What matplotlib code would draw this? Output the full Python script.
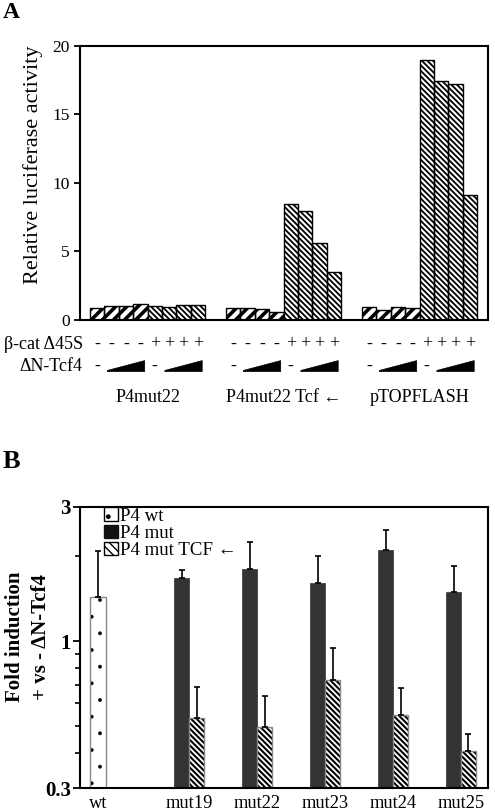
import numpy as np
import matplotlib
matplotlib.use('Agg')
import matplotlib.pyplot as plt
from matplotlib.patches import Polygon, Patch
from matplotlib import transforms
from matplotlib.ticker import FixedLocator, NullFormatter

plt.rcParams['font.family'] = ['Liberation Serif', 'DejaVu Serif']

# ---------------- Panel A data ----------------
groups_A = ['P4mut22', 'P4mut22 Tcf ←', 'pTOPFLASH']
luc_P4mut22 = [0.9, 1.05, 1.0, 1.2, 1.0, 0.95, 1.12, 1.12]
luc_P4mut22_tcf = [0.9, 0.88, 0.78, 0.58, 8.45, 7.95, 5.6, 3.5]
luc_pTOPFLASH = [0.92, 0.72, 0.92, 0.86, 18.95, 17.45, 17.2, 9.15]
bcat_signs = ['-', '-', '-', '-', '+', '+', '+', '+']
yticks_A = [0, 5, 10, 15, 20]

# ---------------- Panel B data ----------------
categories_B = ['wt', 'mut19', 'mut22', 'mut23', 'mut24', 'mut25']
p4_wt = [1.44]
p4_wt_err = [0.65]
p4_mut = [1.67, 1.81, 1.615, 2.11, 1.50]
p4_mut_err = [0.12, 0.44, 0.385, 0.38, 0.355]
p4_tcf = [0.533, 0.495, 0.729, 0.547, 0.406]
p4_tcf_err = [0.155, 0.143, 0.217, 0.135, 0.062]
yticks_B = [0.3, 1, 3]
yticklabels_B = ['0.3', '1', '3']
yminor_B = [0.4, 0.5, 0.6, 0.7, 0.8, 0.9, 2]

W, H = 495, 811
fig = plt.figure(figsize=(W / 100, H / 100), dpi=100)

HATCH_DENSE = '\\' * 6
HATCH_THICK = '///'


def hatched_bar(ax, x, h, width, hatch, hlw, edge='black', lw=1.0, bottom=None):
    kw = {} if bottom is None else {'bottom': bottom}
    with plt.rc_context({'hatch.linewidth': hlw}):
        bars = ax.bar(x, h, width=width, facecolor='white', edgecolor='black',
                      linewidth=0, hatch=hatch, **kw)
        for p in bars.patches:
            try:
                p.set_hatch_linewidth(hlw)
            except Exception:
                pass
    ax.bar(x, h, width=width, fill=False, edgecolor=edge, linewidth=lw, **kw)
    return bars


# ================= Panel A =================
axA = fig.add_axes([80 / W, 1 - 320 / H, 408 / W, 274.3 / H])
gap = 1.46
series_A = [luc_P4mut22, luc_P4mut22_tcf, luc_pTOPFLASH]
trA = transforms.blended_transform_factory(axA.transData, axA.transAxes)
for g, vals in enumerate(series_A):
    x0 = g * (8 + gap)
    xs = x0 + np.arange(len(vals))
    hatched_bar(axA, xs[:4], vals[:4], 1.0, HATCH_THICK, 2.6)
    hatched_bar(axA, xs[4:], vals[4:], 1.0, HATCH_DENSE, 1.3)
    # beta-cat row
    for x, s in zip(xs, bcat_signs):
        axA.text(x, -0.0875, s, transform=trA, ha='center', va='center',
                 fontsize=13)
    # dN-Tcf4 row: '-' then wedge
    for k in (0, 4):
        axA.text(xs[k], -0.168, '-', transform=trA, ha='center', va='center',
                 fontsize=13)
        xl, xr = xs[k + 1] - 0.3, xs[k + 3] + 0.3
        poly = Polygon([(xl, -0.188), (xr, -0.188), (xr, -0.148), (xl, -0.184)],
                       closed=True, transform=trA, facecolor='black',
                       edgecolor='black', linewidth=0.5, clip_on=False)
        axA.add_patch(poly)
    axA.text(xs.mean(), -0.281, groups_A[g], transform=trA, ha='center',
             va='center', fontsize=13)

axA.text(0.007, -0.0875, 'β-cat Δ45S', transform=axA.transAxes, ha='right',
         va='center', fontsize=13)
axA.text(0.007, -0.168, 'ΔN-Tcf4', transform=axA.transAxes, ha='right',
         va='center', fontsize=13)

axA.set_xlim(-1.2, 2 * (8 + gap) + 7.5 + 0.76)
axA.set_ylim(0, 20)
axA.set_yticks(yticks_A)
axA.set_yticklabels([str(t) for t in yticks_A], fontsize=12.5)
axA.set_xticks([])
axA.tick_params(axis='y', direction='out', length=4.5, width=1.3, pad=3)
for sp in axA.spines.values():
    sp.set_linewidth(1.5)
axA.set_ylabel('Relative luciferase activity', fontsize=16)
axA.yaxis.set_label_coords(-0.09, 0.565)

fig.text(3 / W, 1 - 13 / H, 'A', fontsize=17, fontweight='bold',
         ha='left', va='center')

# ================= Panel B =================
axB = fig.add_axes([80 / W, 1 - 788 / H, 408 / W, 281 / H])
axB.set_yscale('log')
cat_x = np.arange(len(categories_B), dtype=float)
cat_x[0] -= 0.34
w = 0.22
bot = 0.3
# wt bar (dotted)
hatched_bar(axB, cat_x[:1], np.array(p4_wt) - bot, 0.235, '.', 0.3,
            edge='#888888', lw=1.0, bottom=bot)
# P4 mut (dark)
axB.bar(cat_x[1:] - w / 2, np.array(p4_mut) - bot, width=w, bottom=bot,
        color='#333333', edgecolor='#333333', linewidth=0.5)
# P4 mut TCF (striped)
hatched_bar(axB, cat_x[1:] + w / 2, np.array(p4_tcf) - bot, w, HATCH_DENSE, 1.5,
            edge='#888888', lw=1.0, bottom=bot)

zeros = lambda n: np.zeros(n)
axB.errorbar(cat_x[:1], p4_wt, yerr=[zeros(1), p4_wt_err], fmt='none',
             ecolor='black', elinewidth=1.2, capsize=2, capthick=1.2)
axB.errorbar(cat_x[1:] - w / 2, p4_mut, yerr=[zeros(5), p4_mut_err], fmt='none',
             ecolor='black', elinewidth=1.2, capsize=2, capthick=1.2)
axB.errorbar(cat_x[1:] + w / 2, p4_tcf, yerr=[zeros(5), p4_tcf_err], fmt='none',
             ecolor='black', elinewidth=1.2, capsize=2, capthick=1.2)

axB.set_ylim(0.3, 3)
axB.set_xlim(-0.605, 5.397)
axB.yaxis.set_major_locator(FixedLocator(yticks_B))
axB.set_yticklabels(yticklabels_B, fontsize=15, fontweight='bold')
axB.yaxis.set_minor_locator(FixedLocator(yminor_B))
axB.yaxis.set_minor_formatter(NullFormatter())
axB.tick_params(axis='y', which='major', direction='out', length=5, width=1.3, pad=1.5)
axB.tick_params(axis='y', which='minor', direction='out', length=3.5, width=1.2)
axB.set_xticks(cat_x)
axB.set_xticklabels(categories_B, fontsize=13.3)
axB.tick_params(axis='x', length=0, pad=5)
for sp in axB.spines.values():
    sp.set_linewidth(1.5)
axB.set_ylabel('Fold induction\n+ vs - ΔN-Tcf4', fontsize=15, fontweight='bold',
               linespacing=1.4)
axB.yaxis.set_label_coords(-0.072, 0.537)

with plt.rc_context({'hatch.linewidth': 1.5}):
    h1 = Patch(facecolor='white', edgecolor='black', hatch='.', linewidth=1)
    h2 = Patch(facecolor='#111111', edgecolor='#111111', linewidth=1)
    h3 = Patch(facecolor='white', edgecolor='black', hatch='\\\\\\\\', linewidth=1)
leg = axB.legend([h1, h2, h3], ['P4 wt', 'P4 mut', 'P4 mut TCF ←'],
                 loc='upper left', bbox_to_anchor=(0.055, 1.005), frameon=False,
                 fontsize=13.6, handlelength=0.7, handleheight=0.7,
                 handletextpad=0.15, labelspacing=0.0, borderpad=0.1,
                 borderaxespad=0)

fig.text(3 / W, 1 - 462 / H, 'B', fontsize=19, fontweight='bold',
         ha='left', va='center')

fig.savefig('out.png', dpi=100)
